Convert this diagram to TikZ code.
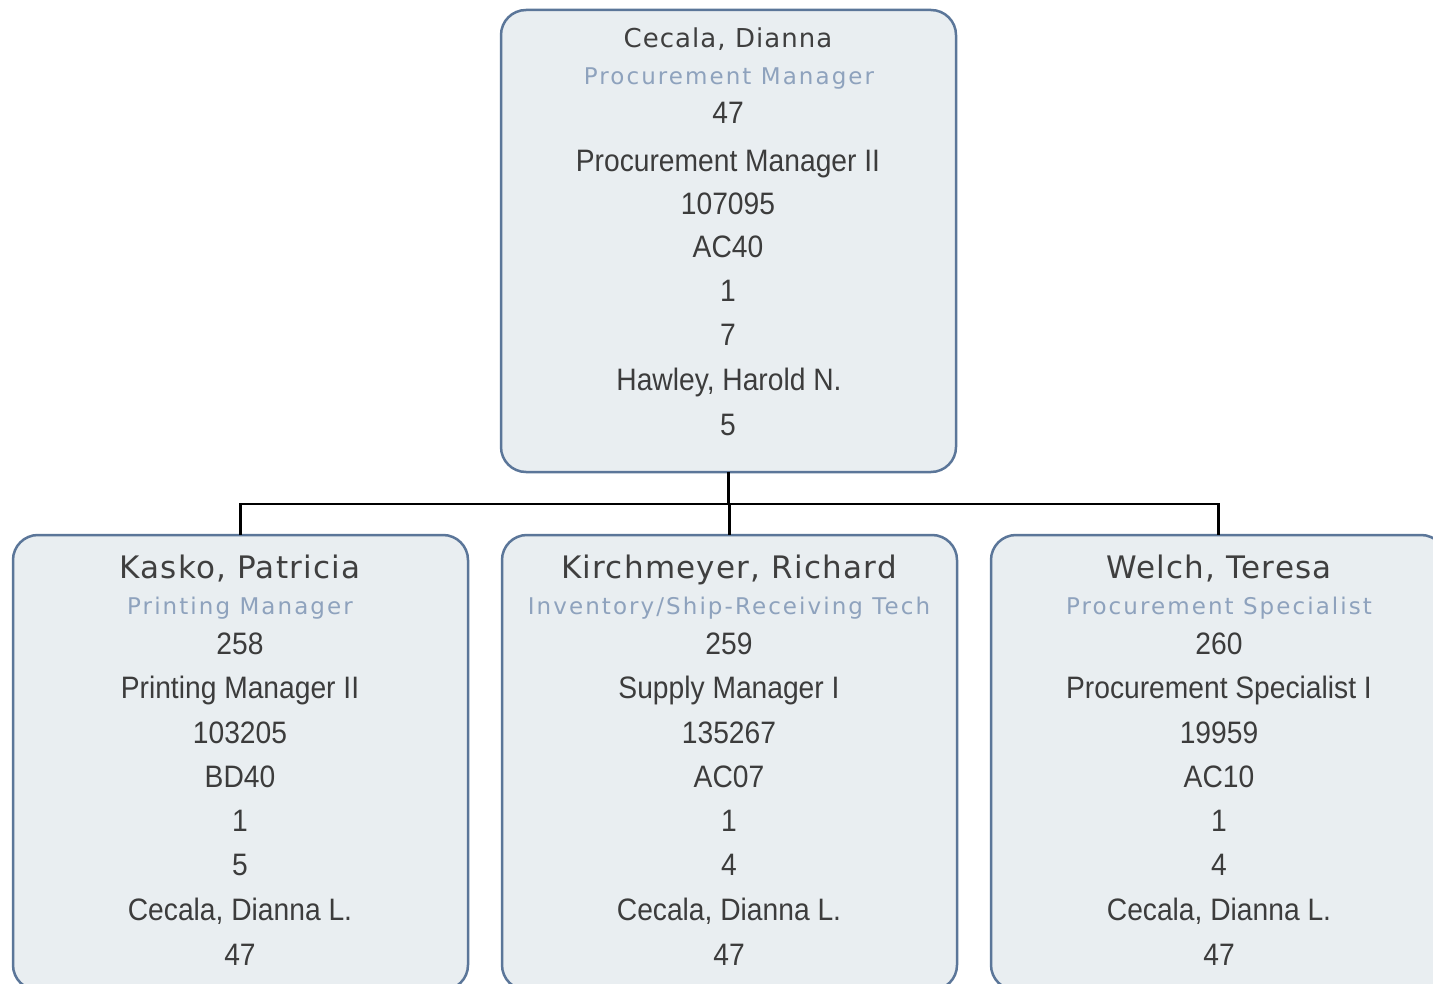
\documentclass[tikz,border=0pt]{standalone}
\usepackage{fontspec}
\setmainfont{Liberation Sans}
\newfontfamily\namefont[LetterSpace=4]{DejaVu Sans}
\newfontfamily\titlefont[LetterSpace=9]{DejaVu Sans}
\newfontfamily\datafont[FakeStretch=0.91]{Liberation Sans}
\definecolor{boxline}{HTML}{5B7699}
\definecolor{boxfill}{HTML}{E9EEF1}
\definecolor{nametext}{HTML}{3F3F3F}
\definecolor{titletext}{HTML}{8EA2BD}
\definecolor{datatext}{HTML}{3C3C3C}
\tikzset{
  card/.style={draw=boxline, line width=2.5pt, fill=boxfill, rounded corners=25pt,
    inner sep=0pt, outer sep=0pt, minimum width=455pt},
  conn/.style={draw=black, line width=2.5pt},
  txt/.style={anchor=base, inner sep=0pt},
  topname/.style={txt, text=nametext, font=\namefont\fontsize{26}{30}\selectfont},
  botname/.style={txt, text=nametext, font=\namefont\fontsize{31}{36}\selectfont},
  toptitle/.style={txt, text=titletext, font=\titlefont\fontsize{23}{27}\selectfont},
  bottitle/.style={txt, text=titletext, font=\titlefont\fontsize{23}{27}\selectfont},
  data/.style={txt, text=datatext, font=\datafont\fontsize{31}{36}\selectfont},
}
\begin{document}
\begin{tikzpicture}[x=1pt,y=-1pt]
\useasboundingbox (0,0) rectangle (1433,984);
\begin{scope}
\clip (0,0) rectangle (1433,984);
% boxes
\node[card, minimum height=462pt] (top) at (728.5,241) {};
\node[card, minimum height=455pt] (b1) at (240.5,762.5) {};
\node[card, minimum height=455pt] (b2) at (729.5,762.5) {};
\node[card, minimum height=455pt] (b3) at (1218.5,762.5) {};
% connectors
\coordinate (j) at (728.5,504);
\draw[conn] (top.south) -- (j);
\draw[conn] (b1.north) |- (j) -| (b3.north);
\draw[conn] (b2.north |- j) -- (b2.north);
% top box text
\node[topname] (t0) at (728,48) {Cecala, Dianna};
\node[toptitle] (t1) at (729,85) {Procurement Manager};
\node[data] (t2) at (728,124) {47};
\node[data] (t3) at (728,172) {Procurement Manager II};
\node[data] (t4) at (728,215) {107095};
\node[data] (t5) at (728,258) {AC40};
\node[data] (t6) at (728,302) {1};
\node[data] (t7) at (728,346) {7};
\node[data] (t8) at (729,390) {Hawley, Harold N.};
\node[data] (t9) at (728,435) {5};
% box 1
\node[botname] (a0) at (240,578) {Kasko, Patricia};
\node[bottitle] (a1) at (240,614) {Printing Manager};
\node[data] (a2) at (240,654) {258};
\node[data] (a3) at (240,698) {Printing Manager II};
\node[data] (a4) at (240,743) {103205};
\node[data] (a5) at (240,787) {BD40};
\node[data] (a6) at (240,831) {1};
\node[data] (a7) at (240,875) {5};
\node[data] (a8) at (240,920) {Cecala, Dianna L.};
\node[data] (a9) at (240,965) {47};
% box 2
\node[botname] (c0) at (729,578) {Kirchmeyer, Richard};
\node[bottitle] (c1) at (729,614) {Inventory/Ship-Receiving Tech};
\node[data] (c2) at (729,654) {259};
\node[data] (c3) at (729,698) {Supply Manager I};
\node[data] (c4) at (729,743) {135267};
\node[data] (c5) at (729,787) {AC07};
\node[data] (c6) at (729,831) {1};
\node[data] (c7) at (729,875) {4};
\node[data] (c8) at (729,920) {Cecala, Dianna L.};
\node[data] (c9) at (729,965) {47};
% box 3
\node[botname] (d0) at (1219,578) {Welch, Teresa};
\node[bottitle] (d1) at (1219,614) {Procurement Specialist};
\node[data] (d2) at (1219,654) {260};
\node[data] (d3) at (1219,698) {Procurement Specialist I};
\node[data] (d4) at (1219,743) {19959};
\node[data] (d5) at (1219,787) {AC10};
\node[data] (d6) at (1219,831) {1};
\node[data] (d7) at (1219,875) {4};
\node[data] (d8) at (1219,920) {Cecala, Dianna L.};
\node[data] (d9) at (1219,965) {47};
\end{scope}
\end{tikzpicture}
\end{document}
